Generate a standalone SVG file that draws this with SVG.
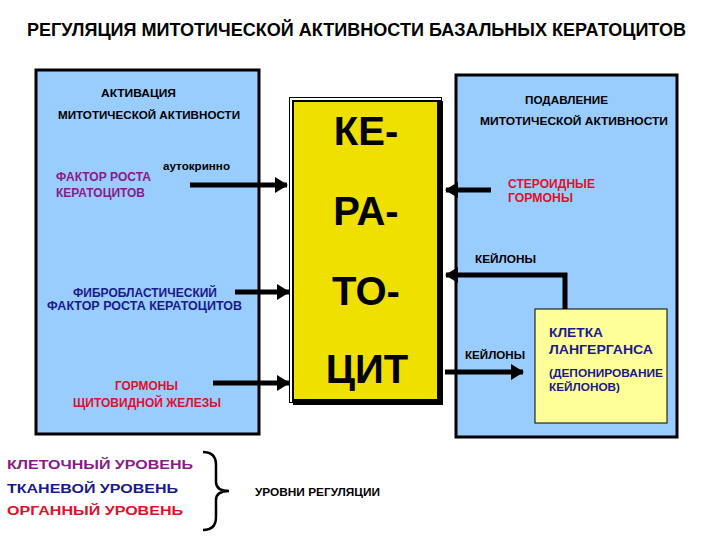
<svg xmlns="http://www.w3.org/2000/svg" width="720" height="540" viewBox="0 0 720 540">
<defs>
<style>
text{font-family:"Liberation Sans",Arial,sans-serif;font-weight:bold}
.s{font-size:11px}
.m{font-size:12px}
.b{font-size:13px}
.k{fill:#000}
.pu{fill:#8a1a8a}
.nv{fill:#1a1a8c}
.rd{fill:#e0102a}
.big{font-size:40px;text-anchor:middle}
.conn{stroke:#000;stroke-width:5;fill:none}
</style>
<marker id="ah" markerUnits="userSpaceOnUse" markerWidth="14" markerHeight="16" refX="12" refY="8" orient="auto">
<path d="M0,0 L13,8 L0,16 Z" fill="#000"/>
</marker>
</defs>
<rect width="720" height="540" fill="#fff"/>
<text x="27" y="36" style="font-size:18px" textLength="659" lengthAdjust="spacingAndGlyphs">РЕГУЛЯЦИЯ МИТОТИЧЕСКОЙ АКТИВНОСТИ БАЗАЛЬНЫХ КЕРАТОЦИТОВ</text>

<g id="activation">
<rect x="36" y="70" width="223" height="364" fill="#99ccff" stroke="#000" stroke-width="3"/>
<text class="s k" x="101" y="97" textLength="75" lengthAdjust="spacingAndGlyphs">АКТИВАЦИЯ</text>
<text class="s k" x="58" y="119" textLength="182" lengthAdjust="spacingAndGlyphs">МИТОТИЧЕСКОЙ АКТИВНОСТИ</text>
<text class="s k" x="163" y="170" textLength="67" lengthAdjust="spacingAndGlyphs">аутокринно</text>
<text class="m pu" x="56" y="181" textLength="95" lengthAdjust="spacingAndGlyphs">ФАКТОР РОСТА</text>
<text class="m pu" x="56" y="197" textLength="89" lengthAdjust="spacingAndGlyphs">КЕРАТОЦИТОВ</text>
<text class="m nv" x="73" y="297" textLength="144" lengthAdjust="spacingAndGlyphs">ФИБРОБЛАСТИЧЕСКИЙ</text>
<text class="m nv" x="47" y="310" textLength="195" lengthAdjust="spacingAndGlyphs">ФАКТОР РОСТА  КЕРАТОЦИТОВ</text>
<text class="m rd" x="115" y="390" textLength="63" lengthAdjust="spacingAndGlyphs">ГОРМОНЫ</text>
<text class="m rd" x="73" y="407" textLength="148" lengthAdjust="spacingAndGlyphs">ЩИТОВИДНОЙ ЖЕЛЕЗЫ</text>
</g>

<g id="keratocyte">
<rect x="289.5" y="97.5" width="152" height="305" fill="#fff" stroke="#000" stroke-width="1"/>
<rect x="293" y="101" width="147" height="300" fill="#f0e000" stroke="#000" stroke-width="2"/>
<path d="M440 101 V402 H293" fill="none" stroke="#000" stroke-width="6"/>
<text class="big k" x="366" y="145">КЕ-</text>
<text class="big k" x="366" y="225">РА-</text>
<text class="big k" x="366" y="305">ТО-</text>
<text class="big k" x="367" y="383">ЦИТ</text>
</g>

<g id="suppression">
<rect x="456" y="75" width="221" height="362" fill="#99ccff" stroke="#000" stroke-width="3"/>
<text class="s k" x="525" y="104" textLength="83" lengthAdjust="spacingAndGlyphs">ПОДАВЛЕНИЕ</text>
<text class="s k" x="480" y="125" textLength="188" lengthAdjust="spacingAndGlyphs">МИТОТИЧЕСКОЙ АКТИВНОСТИ</text>
<text class="m rd" x="508" y="188" textLength="87" lengthAdjust="spacingAndGlyphs">СТЕРОИДНЫЕ</text>
<text class="m rd" x="508" y="202" textLength="65" lengthAdjust="spacingAndGlyphs">ГОРМОНЫ</text>
<text class="s k" x="475" y="263" textLength="61" lengthAdjust="spacingAndGlyphs">КЕЙЛОНЫ</text>
<text class="s k" x="465" y="359" textLength="60" lengthAdjust="spacingAndGlyphs">КЕЙЛОНЫ</text>
</g>

<g id="langerhans">
<rect x="535" y="309" width="132" height="114" fill="#ffff99" stroke="#000" stroke-width="1"/>
<text class="b nv" x="549" y="337" textLength="54" lengthAdjust="spacingAndGlyphs">КЛЕТКА</text>
<text class="b nv" x="549" y="354" textLength="104" lengthAdjust="spacingAndGlyphs">ЛАНГЕРГАНСА</text>
<text class="s nv" x="549" y="377" textLength="114" lengthAdjust="spacingAndGlyphs">(ДЕПОНИРОВАНИЕ</text>
<text class="s nv" x="549" y="391" textLength="71" lengthAdjust="spacingAndGlyphs">КЕЙЛОНОВ)</text>
</g>

<g id="connectors">
<path class="conn" d="M190 185 H287" marker-end="url(#ah)"/>
<path class="conn" d="M235 292 H289" marker-end="url(#ah)"/>
<path class="conn" d="M213 383 H289" marker-end="url(#ah)"/>
<path class="conn" d="M491 190 H446" marker-end="url(#ah)"/>
<path class="conn" d="M565 309 V275 H446" marker-end="url(#ah)"/>
<path class="conn" d="M445 372 H523" marker-end="url(#ah)"/>
</g>

<g id="levels">
<text class="b pu" x="7" y="469" textLength="186" lengthAdjust="spacingAndGlyphs">КЛЕТОЧНЫЙ УРОВЕНЬ</text>
<text class="b nv" x="7" y="493" textLength="171" lengthAdjust="spacingAndGlyphs">ТКАНЕВОЙ УРОВЕНЬ</text>
<text class="b rd" x="7" y="515" textLength="176" lengthAdjust="spacingAndGlyphs">ОРГАННЫЙ УРОВЕНЬ</text>
<path d="M203 452 Q216 452 216 465 V482 Q216 491 229 491 Q216 491 216 500 V517 Q216 530 203 530" fill="none" stroke="#000" stroke-width="2.5"/>
<text class="s k" x="255" y="496" textLength="125" lengthAdjust="spacingAndGlyphs">УРОВНИ РЕГУЛЯЦИИ</text>
</g>
</svg>
